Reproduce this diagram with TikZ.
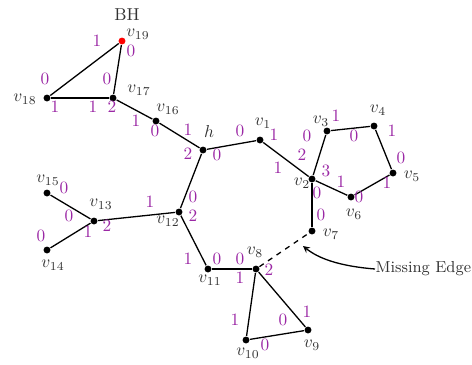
\documentclass[tikz,border=0pt]{standalone}
\usepackage{amsmath,amssymb}
\usepackage{tikz}
\definecolor{portcol}{RGB}{155,40,165}
\tikzset{
  vtx/.style={circle,fill=black,inner sep=0pt,minimum size=4pt},
  vname/.style={text=black!80,inner sep=0pt},
  port/.style={text=portcol,inner sep=0pt}
}

\begin{document}
\begin{tikzpicture}[x=0.578pt,y=-0.578pt,>=stealth,line width=0.75pt]
\useasboundingbox (0,0) rectangle (472,364);
% vertices
\foreach \n/\x/\y in {v1/260/140,v2/312/179,v3/327/131,v4/374/126,v5/393/173,
  v6/351/197,v7/312/231,v8/256/269,v9/308/330,v10/246/340,v11/208/269,
  v12/179/212,v13/94/221,v14/47/250,v15/47/193,v16/156/121,v17/113/98,
  v18/47/98,h/203/150}
  \node[vtx] (\n) at (\x,\y) {};
\node[vtx,fill=red] (v19) at (122,41) {};
% edges
\foreach \a/\b in {v19/v18,v19/v17,v18/v17,v17/v16,v16/h,h/v1,h/v12,v1/v2,
  v2/v3,v3/v4,v4/v5,v5/v6,v6/v2,v2/v7,v12/v13,v13/v15,v13/v14,v12/v11,
  v11/v8,v8/v9,v9/v10,v10/v8}
  \draw (\a) -- (\b);
\draw[dashed] (v8) -- (v7);
% vertex names
\foreach \n/\x/\y/\t in {n1/263/123/v_1,n2/302/183/v_2,n3/321/121/v_3,
  n4/378/110/v_4,n5/412/176/v_5,n6/354/214/v_6,n7/331/234/v_7,
  n8/255/252/v_8,n9/312/345/v_9,n10/248/353/v_{10},n11/210/280/v_{11},
  n12/168/221/v_{12},n13/101/204/v_{13},n14/53/265/v_{14},n15/48/180/v_{15},
  n16/168/109/v_{16},n17/139/90/v_{17},n18/25/99/v_{18},n19/138/34/v_{19},
  nh/209/131/h}
  \node[vname] (\n) at (\x,\y) {$\t$};
\node[vname] (bh) at (127,15) {BH};
% port numbers
\foreach \x/\y/\t [count=\i] in {97/41/1,131/51/0,45/79/0,55/107/1,
  107/79/0,93/107/1,112/107/2,136/121/1,155/131/0,188/130/1,188/154/2,
  217/155/0,240/131/0,274/135/1,278/168/1,302/155/2,307/136/0,326/171/3,
  317/193/0,341/182/1,359/197/0,387/183/1,401/158/0,392/131/1,336/116/1,
  354/136/0,321/215/0,193/197/0,193/216/2,150/202/1,107/226/2,88/232/1,
  69/216/0,64/188/0,41/236/0,188/259/1,217/259/0,240/259/0,240/278/1,
  269/270/2,307/312/1,283/320/0,235/320/1,265/345/0}
  \node[port] (p\i) at (\x,\y) {\t};
% annotation
\node[vname,anchor=west,font=\fontsize{9.2}{11}\selectfont] (miss) at (375,269) {Missing Edge};
\coordinate (tip) at (303,246);
\draw[->] (miss.west) .. controls (338,266) and (318,258) .. (tip);
\end{tikzpicture}
\end{document}
